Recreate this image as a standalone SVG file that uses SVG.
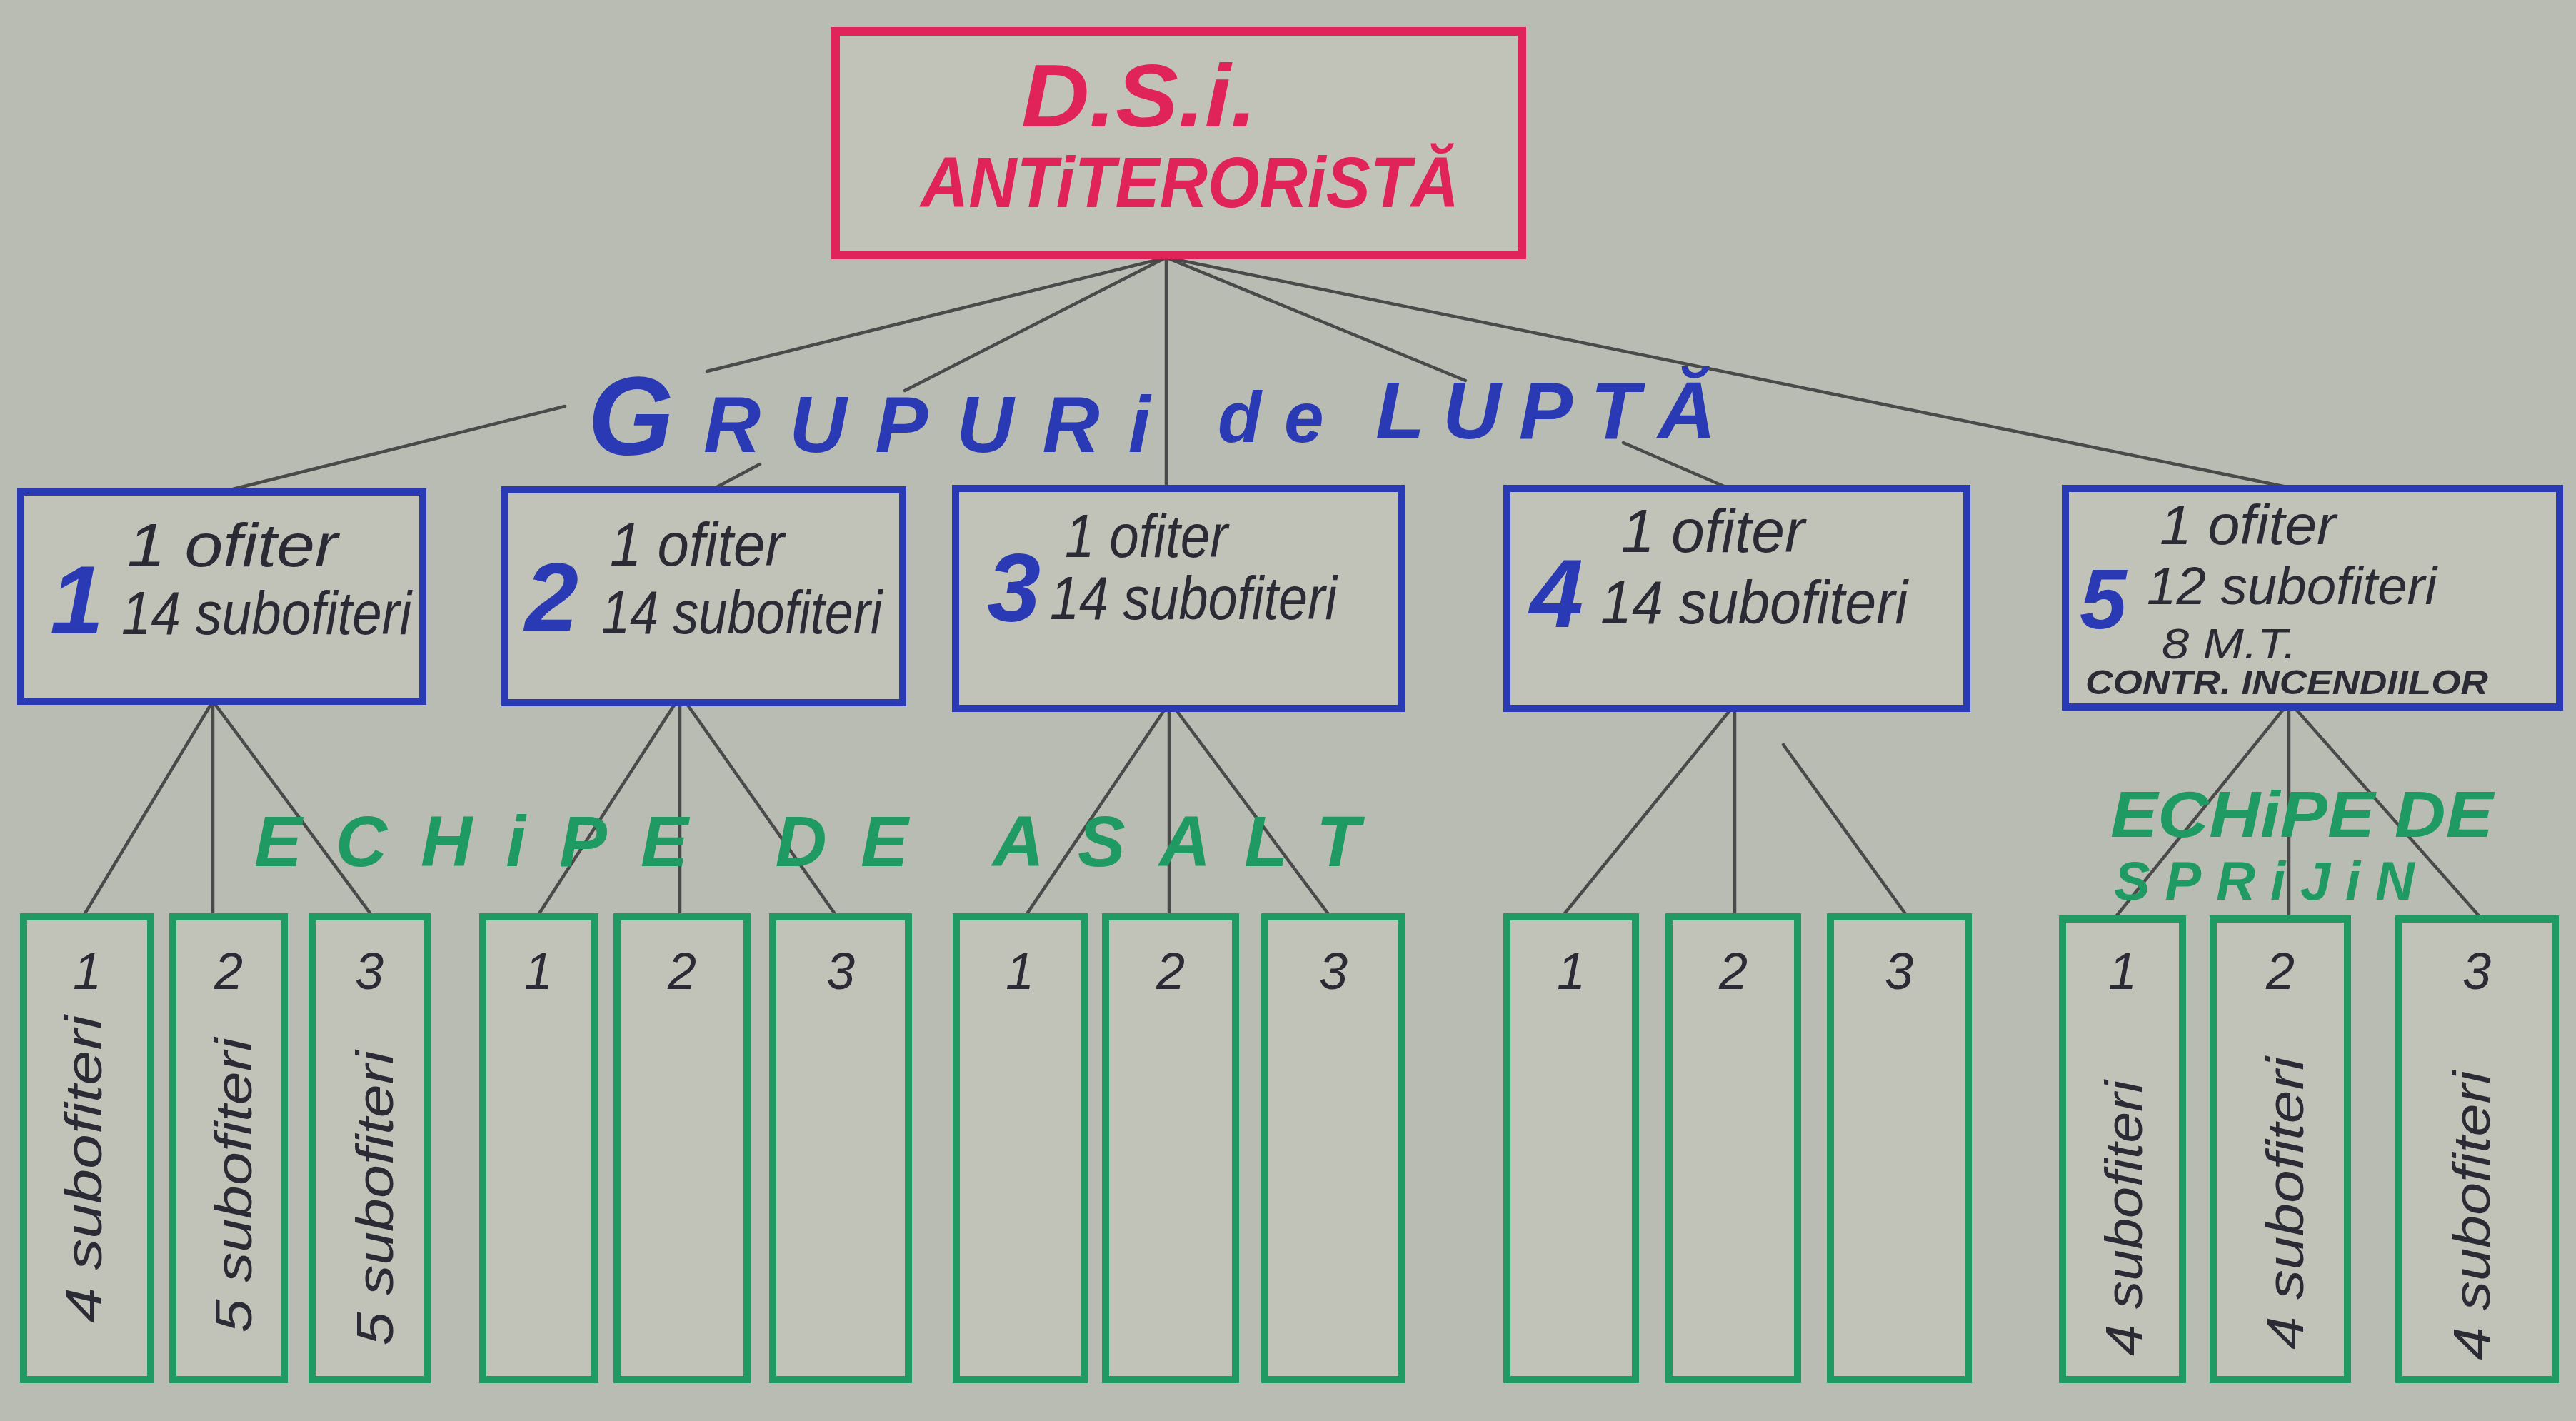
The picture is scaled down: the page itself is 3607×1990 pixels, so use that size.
<svg xmlns="http://www.w3.org/2000/svg" width="3607" height="1990" viewBox="0 0 3607 1990">
<style>
.bg{fill:#b9bcb2}
.red{fill:#c1c2b8;stroke:#e0245a;stroke-width:12}
.blue{fill:#c1c2b8;stroke:#2a3ab4;stroke-width:10}
.green{fill:#c1c2b8;stroke:#1f9a62;stroke-width:10}
.ln{stroke:#4a4a4a;stroke-width:4.5;fill:none;stroke-linecap:round}
.rt{font-family:"Liberation Sans",Arial,sans-serif;font-weight:bold;font-style:italic;fill:#e0245a}
.bt{font-family:"Liberation Sans",Arial,sans-serif;font-weight:bold;font-style:italic;fill:#2a3ab4}
.gt{font-family:"Liberation Sans",Arial,sans-serif;font-weight:bold;font-style:italic;fill:#1f9a62}
.hw{font-family:"Liberation Sans",Arial,sans-serif;font-style:italic;fill:#2b2b35}
.num{font-family:"Liberation Sans",Arial,sans-serif;font-style:italic;fill:#2b2b35;font-size:72px;text-anchor:middle}
.vt{font-family:"Liberation Sans",Arial,sans-serif;font-style:italic;fill:#2b2b35;font-size:72px;text-anchor:middle}
.big{font-family:"Liberation Sans",Arial,sans-serif;font-weight:bold;font-style:italic;fill:#2a3ab4}
</style>
<rect class="bg" x="0" y="0" width="3607" height="1990"/>

<g id="connectors">
  <line class="ln" x1="1628" y1="362" x2="990" y2="520"/>
  <line class="ln" x1="791" y1="569" x2="322" y2="686"/>
  <line class="ln" x1="1630" y1="362" x2="1267" y2="547"/>
  <line class="ln" x1="1064" y1="650" x2="1000" y2="684"/>
  <line class="ln" x1="1633" y1="362" x2="1633" y2="684"/>
  <line class="ln" x1="1636" y1="362" x2="2052" y2="533"/>
  <line class="ln" x1="2273" y1="620" x2="2421" y2="684"/>
  <line class="ln" x1="1640" y1="362" x2="3212" y2="684"/>

  <line class="ln" x1="298" y1="982" x2="116" y2="1284"/>
  <line class="ln" x1="298" y1="982" x2="298" y2="1284"/>
  <line class="ln" x1="298" y1="982" x2="522" y2="1284"/>

  <line class="ln" x1="945" y1="986" x2="752" y2="1284"/>
  <line class="ln" x1="952" y1="986" x2="952" y2="1284"/>
  <line class="ln" x1="962" y1="986" x2="1172" y2="1284"/>

  <line class="ln" x1="1632" y1="992" x2="1435" y2="1284"/>
  <line class="ln" x1="1637" y1="992" x2="1637" y2="1284"/>
  <line class="ln" x1="1645" y1="992" x2="1863" y2="1284"/>

  <line class="ln" x1="2423" y1="994" x2="2187" y2="1284"/>
  <line class="ln" x1="2429" y1="994" x2="2429" y2="1284"/>
  <line class="ln" x1="2497" y1="1043" x2="2671" y2="1284"/>

  <line class="ln" x1="3200" y1="990" x2="2960" y2="1287"/>
  <line class="ln" x1="3205" y1="990" x2="3205" y2="1287"/>
  <line class="ln" x1="3212" y1="990" x2="3475" y2="1287"/>
</g>

<g id="top">
  <rect class="red" x="1170" y="44" width="961" height="313"/>
  <text class="rt" x="1430" y="177" font-size="125" textLength="330" lengthAdjust="spacingAndGlyphs">D.S.i.</text>
  <text class="rt" x="1289" y="290" font-size="100" textLength="754" lengthAdjust="spacingAndGlyphs">ANTiTERORiSTĂ</text>
</g>

<g id="label-grupuri">
  <text class="bt"><tspan x="823" y="637" font-size="155">G</tspan><tspan x="985" y="633" font-size="111" letter-spacing="40">RUPURi</tspan><tspan x="1705" y="619" font-size="100" letter-spacing="32">de</tspan><tspan x="1926" y="614" font-size="113" letter-spacing="25">LUPTĂ</tspan></text>
</g>

<g id="grup1">
  <rect class="blue" x="29" y="689" width="563" height="293"/>
  <text class="big" x="70" y="887" font-size="135">1</text>
  <text class="hw" x="178" y="793" font-size="86" textLength="295" lengthAdjust="spacingAndGlyphs">1 ofiter</text>
  <text class="hw" x="170" y="888" font-size="86" textLength="406" lengthAdjust="spacingAndGlyphs">14 subofiteri</text>
</g>
<g id="grup2">
  <rect class="blue" x="707" y="686" width="557" height="298"/>
  <text class="big" x="735" y="883" font-size="135">2</text>
  <text class="hw" x="854" y="792" font-size="86" textLength="244" lengthAdjust="spacingAndGlyphs">1 ofiter</text>
  <text class="hw" x="842" y="887" font-size="86" textLength="393" lengthAdjust="spacingAndGlyphs">14 subofiteri</text>
</g>
<g id="grup3">
  <rect class="blue" x="1338" y="684" width="624" height="308"/>
  <text class="big" x="1382" y="870" font-size="135">3</text>
  <text class="hw" x="1491" y="780" font-size="86" textLength="228" lengthAdjust="spacingAndGlyphs">1 ofiter</text>
  <text class="hw" x="1470" y="867" font-size="86" textLength="402" lengthAdjust="spacingAndGlyphs">14 subofiteri</text>
</g>
<g id="grup4">
  <rect class="blue" x="2110" y="684" width="644" height="308"/>
  <text class="big" x="2142" y="878" font-size="135">4</text>
  <text class="hw" x="2270" y="773" font-size="86" textLength="257" lengthAdjust="spacingAndGlyphs">1 ofiter</text>
  <text class="hw" x="2241" y="873" font-size="86" textLength="430" lengthAdjust="spacingAndGlyphs">14 subofiteri</text>
</g>
<g id="grup5">
  <rect class="blue" x="2892" y="684" width="692" height="306"/>
  <text class="big" x="2912" y="880" font-size="118">5</text>
  <text class="hw" x="3024" y="762" font-size="78" textLength="247" lengthAdjust="spacingAndGlyphs">1 ofiter</text>
  <text class="hw" x="3006" y="846" font-size="74" textLength="406" lengthAdjust="spacingAndGlyphs">12 subofiteri</text>
  <text class="hw" x="3027" y="922" font-size="60" textLength="189" lengthAdjust="spacingAndGlyphs">8 M.T.</text>
  <text class="hw" x="2920" y="972" font-size="48" font-weight="bold" textLength="564" lengthAdjust="spacingAndGlyphs">CONTR. INCENDIILOR</text>
</g>

<g id="label-asalt">
  <text class="gt" x="356" y="1213" font-size="100" textLength="1548">ECHiPE DE ASALT</text>
</g>
<g id="label-sprijin">
  <text class="gt" x="2955" y="1172" font-size="90" textLength="536" lengthAdjust="spacingAndGlyphs">ECHiPE DE</text>
  <text class="gt" x="2960" y="1260" font-size="76" textLength="421">SPRiJiN</text>
</g>

<g id="echipa1-1"><rect class="green" x="33" y="1284" width="178" height="648"/><text class="num" x="122" y="1385">1</text><text class="vt" transform="translate(142,1637) rotate(-90)" textLength="430" lengthAdjust="spacingAndGlyphs">4 subofiteri</text></g>
<g id="echipa1-2"><rect class="green" x="242" y="1284" width="156" height="648"/><text class="num" x="320" y="1385">2</text><text class="vt" transform="translate(352,1660) rotate(-90)" textLength="413" lengthAdjust="spacingAndGlyphs">5 subofiteri</text></g>
<g id="echipa1-3"><rect class="green" x="437" y="1284" width="161" height="648"/><text class="num" x="517" y="1385">3</text><text class="vt" transform="translate(550,1678) rotate(-90)" textLength="413" lengthAdjust="spacingAndGlyphs">5 subofiteri</text></g>

<g id="echipa2-1"><rect class="green" x="676" y="1284" width="157" height="648"/><text class="num" x="754" y="1385">1</text></g>
<g id="echipa2-2"><rect class="green" x="864" y="1284" width="182" height="648"/><text class="num" x="955" y="1385">2</text></g>
<g id="echipa2-3"><rect class="green" x="1082" y="1284" width="190" height="648"/><text class="num" x="1177" y="1385">3</text></g>

<g id="echipa3-1"><rect class="green" x="1339" y="1284" width="179" height="648"/><text class="num" x="1428" y="1385">1</text></g>
<g id="echipa3-2"><rect class="green" x="1548" y="1284" width="182" height="648"/><text class="num" x="1639" y="1385">2</text></g>
<g id="echipa3-3"><rect class="green" x="1771" y="1284" width="192" height="648"/><text class="num" x="1867" y="1385">3</text></g>

<g id="echipa4-1"><rect class="green" x="2110" y="1284" width="180" height="648"/><text class="num" x="2200" y="1385">1</text></g>
<g id="echipa4-2"><rect class="green" x="2337" y="1284" width="180" height="648"/><text class="num" x="2427" y="1385">2</text></g>
<g id="echipa4-3"><rect class="green" x="2563" y="1284" width="193" height="648"/><text class="num" x="2659" y="1385">3</text></g>

<g id="echipa5-1"><rect class="green" x="2888" y="1287" width="168" height="645"/><text class="num" x="2972" y="1385">1</text><text class="vt" transform="translate(2999,1706) rotate(-90)" textLength="386" lengthAdjust="spacingAndGlyphs">4 subofiteri</text></g>
<g id="echipa5-2"><rect class="green" x="3099" y="1287" width="188" height="645"/><text class="num" x="3193" y="1385">2</text><text class="vt" transform="translate(3225,1685) rotate(-90)" textLength="410" lengthAdjust="spacingAndGlyphs">4 subofiteri</text></g>
<g id="echipa5-3"><rect class="green" x="3359" y="1287" width="219" height="645"/><text class="num" x="3468" y="1385">3</text><text class="vt" transform="translate(3486,1702) rotate(-90)" textLength="405" lengthAdjust="spacingAndGlyphs">4 subofiteri</text></g>
</svg>
